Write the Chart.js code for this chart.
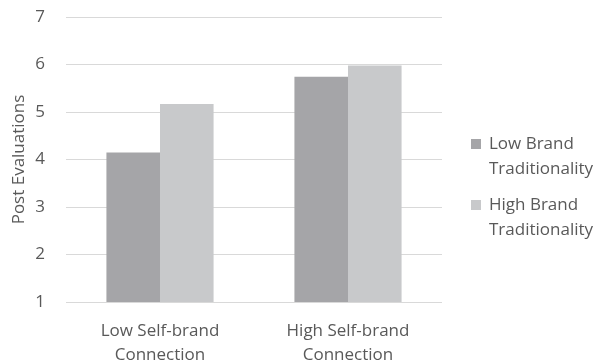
<!DOCTYPE html>
<html>
<head>
<meta charset="utf-8">
<script src="https://cdn.jsdelivr.net/npm/chart.js@4/dist/chart.umd.min.js"></script>
<style>
  html, body { margin: 0; padding: 0; background: #fff; }
  #wrap { width: 604px; height: 364px; position: relative; }
</style>
</head>
<body>
<div id="wrap"><canvas id="postChart"></canvas></div>
<script>
const categories = [['Low Self-brand', 'Connection'], ['High Self-brand', 'Connection']];
const seriesNames = [['Low Brand', 'Traditionality'], ['High Brand', 'Traditionality']];
const lowTraditionality = [4.15, 5.74];
const highTraditionality = [5.17, 5.98];
const yTicks = [1, 2, 3, 4, 5, 6, 7];

const textColor = '#595959';
const fontFamily = '"Open Sans", sans-serif';
const colors = ['#a5a5a8', '#c8c9cb'];

// legend drawn on the canvas so each label can wrap onto two lines
const sideLegend = {
    id: 'sideLegend',
    afterDraw(chart) {
        const ctx = chart.ctx;
        const x = 471;
        const startY = 144;
        ctx.save();
        ctx.font = '17px ' + fontFamily;
        ctx.textBaseline = 'middle';
        chart.data.datasets.forEach((ds, i) => {
            const y = startY + i * 61;
            ctx.fillStyle = ds.backgroundColor;
            ctx.fillRect(x, y - 5, 10, 10);
            ctx.fillStyle = textColor;
            seriesNames[i].forEach((line, j) => {
                ctx.fillText(line, x + 18, y + j * 25);
            });
        });
        ctx.restore();
    }
};

const ctx = document.getElementById('postChart').getContext('2d');
new Chart(ctx, {
    type: 'bar',
    data: {
        labels: categories,
        datasets: [
            { label: 'Low Brand Traditionality', data: lowTraditionality, backgroundColor: colors[0] },
            { label: 'High Brand Traditionality', data: highTraditionality, backgroundColor: colors[1] }
        ]
    },
    options: {
        responsive: true,
        maintainAspectRatio: false,
        animation: false,
        layout: { padding: { top: 17, right: 162, left: 0, bottom: 0 } },
        datasets: { bar: { categoryPercentage: 0.57, barPercentage: 1.0 } },
        plugins: {
            legend: { display: false },
            tooltip: { enabled: false }
        },
        scales: {
            x: {
                grid: { display: false },
                border: { display: false },
                ticks: {
                    color: textColor,
                    font: { family: fontFamily, size: 17, lineHeight: 1.4 },
                    padding: 9,
                    maxRotation: 0
                },
                afterFit(scale) {
                    scale.height = 62;
                    scale.paddingLeft = 0;
                    scale.paddingRight = 0;
                }
            },
            y: {
                min: 1,
                max: 7,
                afterBuildTicks(scale) { scale.ticks = yTicks.map(v => ({ value: v })); },
                grid: { color: '#d9d9d9', lineWidth: 1, drawTicks: false },
                border: { display: false },
                ticks: {
                    color: textColor,
                    font: { family: fontFamily, size: 17 },
                    padding: 21
                },
                title: {
                    display: true,
                    text: 'Post Evaluations',
                    color: textColor,
                    font: { family: fontFamily, size: 17 },
                    padding: { top: 9, bottom: 0 }
                },
                afterFit(scale) {
                    scale.width = 66;
                    scale.paddingTop = 0;
                    scale.paddingBottom = 0;
                }
            }
        }
    },
    plugins: [sideLegend]
});
</script>
</body>
</html>
